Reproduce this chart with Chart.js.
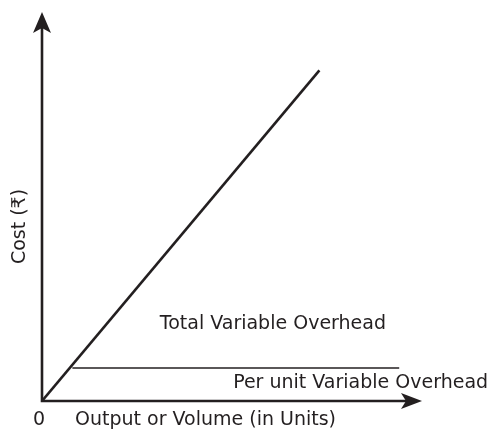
<!DOCTYPE html>
<html>
<head>
<meta charset="utf-8">
<script src="https://cdn.jsdelivr.net/npm/chart.js@4"></script>
<style>
  html, body { margin: 0; padding: 0; background: #fff; }
  #wrap { width: 504px; height: 429px; }
</style>
</head>
<body>
<div id="wrap"><canvas id="costChart"></canvas></div>
<script>
// values (arbitrary units, 0-100 on both axes)
const totalX = [0, 73];
const totalY = [0, 85];
const perUnitX = [8, 94];
const perUnitY = [8.5, 8.5];
const xTicks = [0];
const xTitle = 'Output or Volume (in Units)';
const yTitle = 'Cost (\u20B9)';
const totalLabel = 'Total Variable Overhead';
const perUnitLabel = 'Per unit Variable Overhead';

const ink = '#231f20';
const font = '19px "DejaVu Sans", sans-serif';

const toPoints = (xs, ys) => xs.map((x, i) => ({ x: x, y: ys[i] }));

// axes with arrow heads plus the text labels
const axesPlugin = {
    id: 'axesPlugin',
    beforeDatasetsDraw(chart) {
        const ctx = chart.ctx;
        const xs = chart.scales.x, ys = chart.scales.y;
        const x0 = xs.getPixelForValue(0), y0 = ys.getPixelForValue(0);
        const xEnd = xs.getPixelForValue(100), yEnd = ys.getPixelForValue(100);
        ctx.save();
        ctx.strokeStyle = ink;
        ctx.fillStyle = ink;
        ctx.lineWidth = 2.6;
        ctx.beginPath();
        ctx.moveTo(x0, yEnd + 14);
        ctx.lineTo(x0, y0);
        ctx.lineTo(xEnd - 14, y0);
        ctx.stroke();
        // y arrow
        ctx.beginPath();
        ctx.moveTo(x0, yEnd);
        ctx.lineTo(x0 - 9, yEnd + 21);
        ctx.lineTo(x0, yEnd + 16);
        ctx.lineTo(x0 + 9, yEnd + 21);
        ctx.closePath();
        ctx.fill();
        // x arrow
        ctx.beginPath();
        ctx.moveTo(xEnd, y0);
        ctx.lineTo(xEnd - 21, y0 - 8);
        ctx.lineTo(xEnd - 16, y0);
        ctx.lineTo(xEnd - 21, y0 + 8);
        ctx.closePath();
        ctx.fill();

        ctx.font = font;
        ctx.textBaseline = 'alphabetic';
        ctx.textAlign = 'center';
        xTicks.forEach(t => ctx.fillText(String(t), xs.getPixelForValue(t) - 3, y0 + 24));
        ctx.textAlign = 'left';
        ctx.fillText(xTitle, x0 + 33, y0 + 24);
        ctx.fillText(totalLabel, xs.getPixelForValue(31), ys.getPixelForValue(18.5));
        ctx.fillText(perUnitLabel, xs.getPixelForValue(50.3), ys.getPixelForValue(3.4));

        ctx.translate(x0 - 17, (y0 + yEnd) / 2 + 20);
        ctx.rotate(-Math.PI / 2);
        ctx.textAlign = 'center';
        ctx.fillText(yTitle, 0, 0);
        ctx.restore();
    }
};

new Chart(document.getElementById('costChart'), {
    type: 'scatter',
    data: {
        datasets: [
            {
                data: toPoints(totalX, totalY),
                showLine: true,
                borderColor: ink,
                borderWidth: 2.6,
                pointRadius: 0
            },
            {
                data: toPoints(perUnitX, perUnitY),
                showLine: true,
                borderColor: ink,
                borderWidth: 1.5,
                pointRadius: 0
            }
        ]
    },
    options: {
        responsive: true,
        maintainAspectRatio: false,
        animation: false,
        layout: { padding: { left: 42, right: 82, top: 12, bottom: 28 } },
        scales: {
            x: { type: 'linear', min: 0, max: 100, display: false },
            y: { type: 'linear', min: 0, max: 100, display: false }
        },
        plugins: {
            legend: { display: false },
            tooltip: { enabled: false }
        }
    },
    plugins: [axesPlugin]
});
</script>
</body>
</html>
